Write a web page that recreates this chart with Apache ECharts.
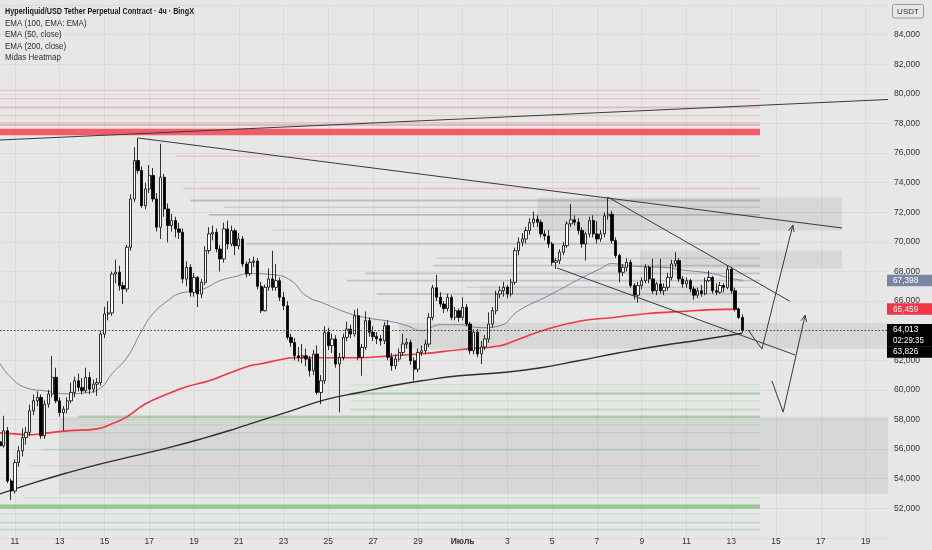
<!DOCTYPE html>
<html>
<head>
<meta charset="utf-8">
<script src="https://cdn.jsdelivr.net/npm/echarts/dist/echarts.min.js"></script>
<style>
html,body{margin:0;padding:0;background:#e7e7e7;}
#c{width:932px;height:550px;}
</style>
</head>
<body>
<div id="c"></div>
<script>
// ---------- DATA ----------
const START_UTC = Date.UTC(2025, 5, 10, 8);   // first 4h slot (10 June 08:00)
const N_SLOTS = 239;                          // 4h slots shown on the x axis

const TICK_DATES  = ['06-11','06-13','06-15','06-17','06-19','06-21','06-23','06-25','06-27','06-29','07-01','07-03','07-05','07-07','07-09','07-11','07-13','07-15','07-17','07-19'];
const TICK_LABELS = ['11','13','15','17','19','21','23','25','27','29','Июль','3','5','7','9','11','13','15','17','19'];

const OPEN = [56500,56220,57240,53850,53170,55090,55880,56780,57130,58590,59270,59490,56900,59040,59720,60850,59260,58470,58700,59260,59830,60620,60170,59940,60840,60050,60390,60500,63770,65130,65200,67830,67950,67050,66820,69640,72900,75500,74820,72450,73580,74490,72900,70990,74370,72230,71100,71440,70880,70650,67490,68280,66590,67600,66480,67270,69410,70540,70650,69520,68850,70880,69860,70760,69740,70200,68510,67850,68620,68700,67000,65350,66930,67500,66930,67380,66255,65690,63550,63200,62300,62200,62310,62080,61290,62420,59830,60620,63890,62990,63440,61750,62200,63550,64110,63775,65015,62200,62870,64680,63890,63600,63450,63320,64340,62200,61630,62080,62530,63100,63200,61970,61400,62530,62650,63100,64900,66900,66260,65800,65500,66250,64900,65350,64900,65580,64450,62650,63900,62430,62900,63440,64450,65350,66480,66700,66930,66480,67270,69410,69980,70200,70770,71300,71550,71330,70540,70400,69860,68620,68735,69300,69750,71220,71490,71330,70770,69860,70540,71440,70540,70200,70540,71760,71870,70090,69080,67950,68280,68620,67050,66400,67050,67380,68280,67500,66700,67160,66700,66930,67600,68510,68735,67500,67160,67380,66820,66400,66700,66500,67380,67600,66700,66600,67050,66930,68150,66700,65465,64900];
const CLOSE = [56220,57240,53850,53170,55090,55880,56780,57130,58590,59270,59490,56900,59040,59720,60850,59260,58470,58700,59260,59830,60620,60170,59940,60840,60050,60390,60500,63770,65130,65200,67830,67950,67050,66820,69640,72900,75500,74820,72450,73580,74490,72900,70990,74370,72230,71100,71440,70880,70650,67490,68280,66590,67600,66480,67270,69410,70540,70650,69520,68850,70880,69860,70760,69740,70200,68510,67850,68620,68700,67000,65350,66930,67500,66930,67380,66255,65690,63550,63200,62300,62200,62310,62080,61290,62420,59830,60620,63890,62990,63440,61750,62200,63550,64110,63775,65015,62200,62870,64680,63890,63600,63450,63320,64340,62200,61630,62080,62530,63100,63200,61970,61400,62530,62650,63100,64900,66900,66260,65800,65500,66250,64900,65350,64900,65580,64450,62650,63900,62430,62900,63440,64450,65350,66480,66700,66930,66480,67270,69410,69980,70200,70770,71300,71550,71330,70540,70400,69860,68620,68735,69300,69750,71220,71490,71330,70770,69860,70540,71440,70540,70200,70540,71760,71870,70090,69080,67950,68280,68620,67050,66400,67050,67380,68280,67500,66700,67160,66700,66930,67600,68510,68735,67500,67160,67380,66820,66400,66700,66500,67380,67600,66700,66600,67050,66930,68150,66700,65465,64900,64013];
const HIGH  = [56900,58250,57500,54000,55300,56200,57400,57500,59000,59700,59900,59700,59300,60000,62300,61500,59500,58900,59500,60500,60900,61100,60800,61500,61200,60700,60800,64000,65600,66000,68000,68800,68400,67300,69800,73200,76400,77030,75100,74000,75200,75000,73300,76630,74600,72600,71900,71700,71300,70900,68700,68500,67900,67700,67500,69700,71000,71100,70900,69800,71300,71440,71100,70900,70600,70400,68700,68900,69000,68900,67300,67100,68200,69400,68500,67600,66600,66000,63800,63500,62900,63100,62800,62300,62700,63000,61000,64300,64200,63800,63700,62500,63800,64600,64400,65400,65500,63100,65300,64900,64300,63900,63700,64600,64700,62500,62400,62800,63800,63500,63400,62200,62800,63000,63400,65200,67100,67770,66600,66000,66500,66400,65600,65500,66250,65800,64600,64100,64100,63300,63700,65240,65600,66700,67000,67300,67100,67500,69600,70300,70600,71000,71600,72050,71800,71500,70800,70800,70000,68900,69500,70000,71400,72570,71800,71600,71000,70700,71700,71800,71400,70800,72000,73020,72100,70300,69200,68500,68900,68800,67200,67300,67600,68500,68400,68850,67300,68850,67200,67900,68800,69300,68900,67700,67600,67500,67000,66900,67100,67600,68050,67700,67200,67300,67200,68400,68300,66900,65550,65100];
const LOW   = [56000,56100,53700,52550,53000,54800,55500,56300,56900,58300,58900,56700,56700,58800,59500,59100,58200,57240,58400,59100,59500,59900,59700,59800,59700,59800,59600,60300,63500,64700,65000,67200,66700,65800,66600,69400,72700,74600,72300,72200,73300,72700,70700,70200,71700,69970,70700,70300,70200,67200,67000,66300,66300,65600,66200,67100,69200,70100,69300,68000,68600,69500,69700,69100,69500,68300,67600,67700,68300,66800,65200,65300,66700,66700,66700,66000,65400,63400,62900,62000,61900,61800,61600,60900,61000,59700,59040,60400,62700,62500,61500,58475,62000,63300,63500,63600,62000,60950,62700,63600,63300,63100,63000,63100,62000,61300,61400,61900,62300,62800,61700,60620,61200,62300,62400,62900,64700,66000,65600,65200,65300,64700,64700,64600,64700,64300,62400,62400,62200,61750,62700,63200,64200,65100,66200,66300,66200,66300,67100,69100,69700,69900,70500,71000,71000,70300,70100,69600,68400,68170,68500,69100,69600,71000,71100,70500,69600,68735,70300,70300,69900,70000,70300,71500,69900,68900,67270,67700,68000,66900,66100,65900,66800,67200,67200,66500,66400,66500,66400,66700,67400,68300,67300,66900,66900,66600,66100,66200,66300,66400,67300,66500,66400,66500,66600,66800,66500,65300,64800,63890];

// moving averages as [slot index, price]
const EMA50  = [[0,61767],[3,60820],[7,60143],[12,59940],[18,59737],[23,59805],[27,60143],[30,61090],[34,62173],[38,64000],[41,65150],[45,66030],[48,66503],[54,66774],[59,67383],[63,67654],[67,67857],[73,67789],[78,67383],[82,66368],[87,65827],[93,65218],[98,64880],[105,64609],[109,64338],[113,64000],[118,64406],[123,64406],[129,64203],[134,64338],[139,65353],[147,66368],[156,67586],[161,68195],[164,68533],[168,68398],[173,68330],[179,68262],[182,68127],[191,67857],[195,67586],[199,67398]];
const EMA100 = [[0,57099],[4,57031],[7,56963],[13,57099],[18,57234],[26,57369],[30,57708],[34,58181],[39,59061],[45,59738],[50,60211],[56,60617],[61,61091],[67,61632],[70,61767],[75,62038],[79,62173],[87,62173],[96,62173],[105,62309],[113,62444],[123,62714],[134,62985],[138,63323],[147,64135],[156,64677],[164,64880],[173,65150],[182,65286],[191,65421],[198,65459]];
const EMA200 = [[0,52971],[9,53716],[18,54392],[27,55001],[36,55543],[45,56084],[54,56693],[63,57369],[67,57708],[78,58587],[87,59331],[96,59805],[105,60279],[113,60617],[123,60955],[134,61158],[145,61497],[155,61970],[166,62511],[177,62985],[188,63391],[199,63826]];

const LAST_PRICE = 64013;
const COUNTDOWN = '02:29:35';

// heatmap levels: [start slot, price, weight 1..5]
const HEAT_END = 203.7;
const HEAT_RED   = [[0,80243,1],[0,79676,1],[0,79095,2],[0,78527,1],[0,78060,1],[0,77900,2],[0,77426,5],[47,75773,1],[49,73608,1]];
const HEAT_BLUE  = [[51,72796,2],[56,71828,2]];
const HEAT_GRAY  = [[60,72342,1],[73,70813,1],[66,69866,2],[117,68894,1],[116,68398,2],[98,67876,2],[93,67383,2],[125,66930,1],[101,66483,2],[124,65915,1]];
const HEAT_GREEN = [[94,60346,1],[94,59758,3],[94,59264,1],[94,58675,2],[21,58181,3],[21,57640,1],[16,57119,1],[11,55969,2],[8,54886,1],[6,52701,1],[0,52112,5],[0,51618,1],[0,51030,2],[0,50555,2]];

// shaded zones: [start slot, end slot, top price, bottom price]
const ZONES = [[16,238,58181,52972],[144,225.7,73000,70770],[171.5,225.7,69413,68195],[107,238,64541,62782],[128.6,197,67045,65894]];
const ZONE_ALPHA = [0.065,0.065,0.065,0.065,0.04];

// drawn trend lines: [slot1, price1, slot2, price2]
const TRENDLINES = [[0,76885,238,79622],[37,77020,225.7,70940],[163,73020,211.7,65990],[149.3,68240,213.1,62360]];
// drawn arrows: [slot, price] x3
const ARROWS = [[200.5,64050,204.2,62760,212.5,71130],[206.9,60600,209.9,58500,215.8,65050]];

// ---------- BUILD ----------
const pad = n => String(n).padStart(2,'0');
const CATS = [];
for (let i = 0; i < N_SLOTS; i++) {
  const d = new Date(START_UTC + i * 4 * 3600e3);
  CATS.push(pad(d.getUTCMonth()+1) + '-' + pad(d.getUTCDate()) + ' ' + pad(d.getUTCHours()));
}
const TICK_MAP = {};
TICK_DATES.forEach((d, k) => { TICK_MAP[d + ' 00'] = TICK_LABELS[k]; });
const isTick = (idx, val) => TICK_MAP[val] !== undefined;

const FONT = '"Liberation Sans",Arial,sans-serif';
const candles = OPEN.map((o, i) => [o, CLOSE[i], LOW[i], HIGH[i]]);

function heatSeries(data, rgb, H, A) {
  return {
    type: 'custom', xAxisIndex: 1, yAxisIndex: 0, data: data, clip: true, silent: true, z: 1,
    encode: { x: 0, y: 1 },
    renderItem: function (params, api) {
      const v = api.value(1), w = api.value(2);
      const a = api.coord([api.value(0), v]);
      const b = api.coord([HEAT_END, v]);
      const h = H[w];
      return { type: 'rect', shape: { x: a[0], y: a[1] - h / 2, width: b[0] - a[0], height: h },
        style: { fill: 'rgba(' + rgb + ',' + A[w] + ')' } };
    }
  };
}
const H_STD = [0, 1.3, 1.8, 2.6, 3.4, 6.4];
const A_RED = [0, 0.2, 0.28, 0.4, 0.55, 0.78];
const A_GRAY = [0, 0.22, 0.34, 0.45, 0.6, 0.8];
const H_GREEN = [0, 1.3, 1.8, 2.4, 3.2, 4.4];
const A_GREEN = [0, 0.17, 0.26, 0.36, 0.45, 0.55];

const option = {
  animation: false,
  backgroundColor: '#e7e7e7',
  grid: { left: 0, right: 44, top: 5.1, bottom: 12.1, containLabel: false },
  xAxis: [
    { type: 'category', data: CATS, boundaryGap: false,
      axisLine: { show: false }, axisTick: { show: false },
      axisLabel: { interval: isTick, formatter: v => (TICK_MAP[v] === 'Июль' ? '{b|Июль}' : TICK_MAP[v]),
        color: '#333', fontSize: 8.5, fontFamily: FONT, margin: -1,
        rich: { b: { fontWeight: 'bold', fontSize: 8.5, fontFamily: FONT, color: '#333' } } },
      splitLine: { show: true, interval: isTick, lineStyle: { color: '#dadada', width: 1 } } },
    { type: 'value', min: 0, max: N_SLOTS - 1, show: false }
  ],
  yAxis: [{
    type: 'value', position: 'right', min: 50000, max: 86000, interval: 2000,
    axisLine: { show: false }, axisTick: { show: false },
    axisLabel: { color: '#333', fontSize: 8.5, fontFamily: FONT, margin: 6,
      formatter: v => (v === 50000 || v === 86000) ? '' : v.toLocaleString('en-US') },
    splitLine: { lineStyle: { color: '#dadada', width: 1 } }
  }],
  series: [
    { type: 'custom', xAxisIndex: 1, yAxisIndex: 0, data: ZONES, clip: true, silent: true, z: 0,
      encode: { x: [0, 1], y: [2, 3] },
      renderItem: function (params, api) {
        const p0 = api.coord([api.value(0), api.value(2)]);
        const p1 = api.coord([api.value(1), api.value(3)]);
        return { type: 'rect', shape: { x: p0[0], y: p0[1], width: p1[0] - p0[0], height: p1[1] - p0[1] },
          style: { fill: 'rgba(0,0,0,' + ZONE_ALPHA[params.dataIndex] + ')' } };
      } },
    heatSeries(HEAT_RED, '242,54,69', H_STD, A_RED),
    heatSeries(HEAT_BLUE, '96,104,150', H_STD, A_GRAY),
    heatSeries(HEAT_GRAY, '120,123,134', H_STD, A_GRAY),
    heatSeries(HEAT_GREEN, '76,175,80', H_GREEN, A_GREEN),
    { type: 'line', xAxisIndex: 1, data: EMA200, smooth: true, showSymbol: false, silent: true, z: 3,
      lineStyle: { color: '#2e2e2e', width: 1.4 } },
    { type: 'line', xAxisIndex: 1, data: EMA100, smooth: true, showSymbol: false, silent: true, z: 3,
      lineStyle: { color: '#f23645', width: 1.6 } },
    { type: 'line', xAxisIndex: 1, data: EMA50, smooth: true, showSymbol: false, silent: true, z: 3,
      lineStyle: { color: '#7880a0', width: 1 } },
    { type: 'candlestick', xAxisIndex: 0, yAxisIndex: 0, data: candles, barWidth: 2.8, z: 4,
      itemStyle: { color: '#ffffff', color0: '#000000', borderColor: '#000000', borderColor0: '#000000', borderWidth: 0.8 },
      markLine: { silent: true, symbol: 'none', label: { show: false },
        lineStyle: { type: [1.5, 2], color: '#444', width: 1 },
        data: [{ yAxis: LAST_PRICE }] } },
    { type: 'custom', xAxisIndex: 1, yAxisIndex: 0, data: TRENDLINES, clip: true, silent: true, z: 5,
      encode: { x: [0, 2], y: [1, 3] },
      renderItem: function (params, api) {
        const a = api.coord([api.value(0), api.value(1)]);
        const b = api.coord([api.value(2), api.value(3)]);
        return { type: 'line', shape: { x1: a[0], y1: a[1], x2: b[0], y2: b[1] },
          style: { stroke: '#3a3a3a', lineWidth: 1 } };
      } },
    { type: 'custom', xAxisIndex: 1, yAxisIndex: 0, data: ARROWS, clip: true, silent: true, z: 5,
      encode: { x: [0, 2, 4], y: [1, 3, 5] },
      renderItem: function (params, api) {
        const pts = [0, 1, 2].map(k => api.coord([api.value(2 * k), api.value(2 * k + 1)]));
        const p = pts[1], q = pts[2];
        const ang = Math.atan2(q[1] - p[1], q[0] - p[0]);
        const L = 7, A = 0.42;
        const h1 = [q[0] - L * Math.cos(ang - A), q[1] - L * Math.sin(ang - A)];
        const h2 = [q[0] - L * Math.cos(ang + A), q[1] - L * Math.sin(ang + A)];
        return { type: 'group', children: [
          { type: 'polyline', shape: { points: pts }, style: { stroke: '#3a3a3a', lineWidth: 1, fill: null } },
          { type: 'polyline', shape: { points: [h1, q, h2] }, style: { stroke: '#3a3a3a', lineWidth: 1, fill: null } }
        ] };
      } }
  ]
};

const chart = echarts.init(document.getElementById('c'), null, { renderer: 'canvas' });
chart.setOption(option);

// ---------- TEXT / TAGS ----------
const yOf = v => chart.convertToPixel({ yAxisIndex: 0 }, v);
const TAG_X = 887, TAG_W = 45, TAG_H = 11.5;
function txt(x, y, text, fill, font, sx) {
  return { type: 'text', x: x, y: y, scaleX: sx || 1, style: { text: text, fill: fill, font: font, textVerticalAlign: 'middle' }, z: 101 };
}
function tag(y, text, bg) {
  return [
    { type: 'rect', shape: { x: TAG_X, y: y - TAG_H / 2, width: TAG_W, height: TAG_H }, style: { fill: bg }, z: 100 },
    txt(893, y, text, '#ffffff', '9px ' + FONT, 0.92)
  ];
}
const yLast = yOf(LAST_PRICE);
const ema50Last = EMA50[EMA50.length - 1][1], ema100Last = EMA100[EMA100.length - 1][1], ema200Last = EMA200[EMA200.length - 1][1];
const fmt = v => v.toLocaleString('en-US');
let graphics = [];
graphics = graphics.concat(tag(yOf(ema50Last), fmt(ema50Last), '#7b84a0'));
graphics = graphics.concat(tag(yOf(ema100Last), fmt(ema100Last), '#f23645'));
graphics.push({ type: 'rect', shape: { x: TAG_X, y: yLast - 6.5, width: TAG_W, height: 22.5 }, style: { fill: '#000' }, z: 100 });
graphics.push(txt(893, yLast - 0.5, fmt(LAST_PRICE), '#fff', '9px ' + FONT, 0.92));
graphics.push(txt(893, yLast + 10, COUNTDOWN, '#fff', '9px ' + FONT, 0.88));
graphics = graphics.concat(tag(yLast + 21.5, fmt(ema200Last), '#000'));

const LEGEND = ['EMA (100, EMA: EMA)', 'EMA (50, close)', 'EMA (200, close)', 'Midas Heatmap'];
graphics.push(txt(5, 11.7, 'Hyperliquid/USD Tether Perpetual Contract · 4ч · BingX', '#131722', 'bold 9.5px ' + FONT, 0.76));
LEGEND.forEach((t, k) => graphics.push(txt(5, 23.3 + k * 11.3, t, '#2a2e39', '9.5px ' + FONT, 0.84)));
graphics.push({ type: 'rect', shape: { x: 892.5, y: 4.5, width: 31, height: 13.5, r: 2 }, style: { fill: 'rgba(0,0,0,0)', stroke: '#9a9a9a', lineWidth: 1 }, z: 101 });
graphics.push({ type: 'text', x: 908, y: 11.3, style: { text: 'USDT', fill: '#333', font: '8px ' + FONT, textAlign: 'center', textVerticalAlign: 'middle' }, z: 102 });

chart.setOption({ graphic: graphics });
</script>
</body>
</html>
